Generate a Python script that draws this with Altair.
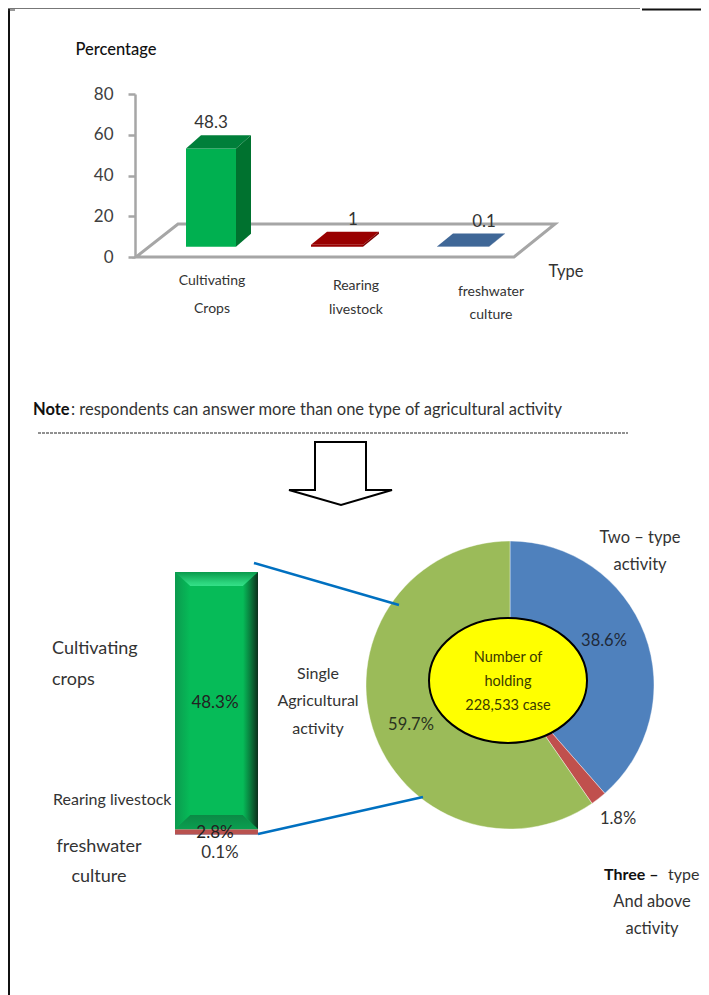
import altair as alt
import pandas as pd

# ---- values
bar_types = ["Cultivating Crops", "Rearing livestock", "freshwater culture"]
bar_values = [48.3, 1.0, 0.1]
bar_labels = ["48.3", "1", "0.1"]
y_ticks = [0, 20, 40, 60, 80]
stack_values = [0.1, 1.0, 48.3]
pie_names = ["Two-type activity", "Three-type and above", "Single activity"]
pie_values = [38.6, 1.8, 59.7]

# ---- layout, styles
FONT = "Lato"
INK = "#333333"
W, H = 693, 987
bar_left = [186, 311, 437]
bar_width = [50, 52, 52]
bar_shift = [15, 16, 16]
front_colors = ["#00b050", "#990000", "#3f6797"]
top_colors = ["#007f3a", "#990000", "#3f6797"]
side_colors = ["#00722f", "#7a0000", "#335580"]
BASE, DEPTH = 5.0, 6.4

X = alt.Scale(domain=[8, 8 + W], range=[0, W])
PX_Y = alt.Scale(domain=[8, 8 + H], range=[0, H])
TOP_Y = alt.Scale(domain=[0, 80], range=[249, 86])
STACK_Y = alt.Scale(domain=[0, sum(stack_values)], range=[827, 564])


def poly(points, fill, yscale=PX_Y, stroke=None, sw=0, closed=True):
    df = pd.DataFrame({"x": [p[0] for p in points], "y": [p[1] for p in points], "i": range(len(points))})
    kw = {"interpolate": "linear-closed" if closed else "linear", "strokeWidth": sw,
          "stroke": stroke if stroke else "transparent"}
    if fill is not None:
        kw["fill"] = fill
    return alt.Chart(df).mark_line(**kw).encode(
        x=alt.X("x:Q", scale=X, axis=None),
        y=alt.Y("y:Q", scale=yscale, axis=None),
        order="i:Q",
    )


def seg(x1, y1, x2, y2, color, sw, dash=None):
    kw = {"color": color, "strokeWidth": sw}
    if dash:
        kw["strokeDash"] = dash
    df = pd.DataFrame({"x": [x1, x2], "y": [y1, y2], "i": [0, 1]})
    return alt.Chart(df).mark_line(**kw).encode(
        x=alt.X("x:Q", scale=X, axis=None),
        y=alt.Y("y:Q", scale=PX_Y, axis=None),
        order="i:Q",
    )


def txt(s, x, y, size, color=INK, align="center", weight=400):
    df = pd.DataFrame({"x": [x], "y": [y], "t": [s]})
    return alt.Chart(df).mark_text(font=FONT, fontSize=size, color=color, align=align,
                                   baseline="middle", fontWeight=weight).encode(
        x=alt.X("x:Q", scale=X, axis=None),
        y=alt.Y("y:Q", scale=PX_Y, axis=None),
        text="t:N",
    )


layers = []

# page border
layers += [seg(8, 8.5, 640, 8.5, "#777777", 1), seg(642, 9.5, 709, 9.5, "#111111", 2),
           seg(9, 9, 9, 995, "#111111", 2), seg(8, 10, 15, 10, "#333333", 1)]

# 3D floor
floor = [(136, 0), (514, 0), (555, 16.2), (178, 16.2)]
layers.append(poly(floor, "#ffffff", TOP_Y, "#a6a6a6", 3))

# front faces, carrying the y axis
front = pd.DataFrame({
    "x": bar_left,
    "x2": [l + w for l, w in zip(bar_left, bar_width)],
    "y0": [BASE] * 3,
    "y1": [BASE + v for v in bar_values],
    "c": front_colors,
})
layers.append(
    alt.Chart(front).mark_rect().encode(
        x=alt.X("x:Q", scale=X, axis=None),
        x2="x2:Q",
        y=alt.Y("y1:Q", scale=TOP_Y, axis=alt.Axis(
            values=y_ticks, offset=-127, title=None, grid=False, domainColor="#a6a6a6", domainWidth=2.5,
            tickColor="#a6a6a6", tickWidth=2.5, tickSize=7, labelFont=FONT, labelFontSize=17,
            labelColor="#404040", labelPadding=15)),
        y2="y0:Q",
        fill=alt.Fill("c:N", scale=None),
    )
)

# top and side faces
for l, w, sh, v, tc, sc in zip(bar_left, bar_width, bar_shift, bar_values, top_colors, side_colors):
    t = BASE + v
    layers.append(poly([(l, t), (l + sh, t + DEPTH), (l + w + sh, t + DEPTH), (l + w, t)], tc, TOP_Y))
    layers.append(poly([(l + w, t), (l + w + sh, t + DEPTH), (l + w + sh, BASE + DEPTH), (l + w, BASE)], sc, TOP_Y))

# bar-chart text
for s, x, y in zip(bar_labels, [211, 353, 484], [123, 220, 222]):
    layers.append(txt(s, x, y, 17))
layers += [
    txt("Percentage", 116, 50, 16.5, "#111111", weight=500),
    txt("Type", 566, 272, 16.5),
    txt("Cultivating", 212, 281, 14), txt("Crops", 212, 309, 14),
    txt("Rearing", 356, 286, 14), txt("livestock", 356, 310, 14),
    txt("freshwater", 491, 292, 14), txt("culture", 491, 315, 14),
    txt("Note", 33, 410, 16.5, "#111111", "left", 700),
    txt(": respondents can answer more than one type of agricultural activity", 71, 410, 16.5, align="left"),
]

# dashed rule and arrow
layers.append(seg(38, 433, 628, 433, "#222222", 1, [3, 1]))
arrow = [(315, 442), (366, 442), (366, 490), (392, 490), (341, 505), (289, 490), (315, 490)]
layers.append(poly(arrow, "#ffffff", PX_Y, "#000000", 2))

# stacked column
cum = [sum(stack_values[:i]) for i in range(4)]
stack = pd.DataFrame({
    "x": [175] * 3, "x2": [258] * 3, "y0": cum[:3], "y1": cum[1:],
    "c": ["#4f81bd", "#b9524f", "#06bb58"],
})
layers.append(
    alt.Chart(stack).mark_rect().encode(
        x=alt.X("x:Q", scale=X, axis=None), x2="x2:Q",
        y=alt.Y("y1:Q", scale=STACK_Y, axis=None), y2="y0:Q",
        fill=alt.Fill("c:N", scale=None),
    )
)


def grad(stops, horizontal=False):
    return alt.LinearGradient(
        gradient="linear",
        stops=[alt.GradientStop(offset=o, color=c) for o, c in stops],
        x1=0, y1=0, x2=1 if horizontal else 0, y2=0 if horizontal else 1,
    )


layers += [
    poly([(175, 572), (258, 572), (243, 586), (190, 586)],
         grad([(0, "#0a9a4c"), (0.75, "#2bd47c"), (1, "#34e088")])),
    poly([(175, 829), (258, 829), (243, 815), (190, 815)],
         grad([(0, "#0b8a45"), (1, "#0b9e50")])),
    poly([(175, 572), (190, 586), (190, 815), (175, 829)],
         grad([(0, "#0b9a4e"), (1, "#06bb58")], True)),
    poly([(258, 572), (243, 586), (243, 815), (258, 829)],
         grad([(0, "#06bb58"), (0.5, "#0a7a3c"), (1, "#0c2f1c")], True)),
]

# pie
pie = pd.DataFrame({"n": pie_names, "v": pie_values, "i": range(3)})
layers.append(
    alt.Chart(pie).mark_arc(radius=144, stroke="#ffffff", strokeWidth=0.4).encode(
        x=alt.value(502), y=alt.value(677),
        theta=alt.Theta("v:Q", stack=True),
        order=alt.Order("i:Q"),
        color=alt.Color("n:N", legend=None, sort=pie_names,
                        scale=alt.Scale(domain=pie_names, range=["#4f81bd", "#c0504d", "#9bbb59"])),
    )
)

# connector lines
layers += [seg(254, 563, 399, 605, "#0070c0", 2.5), seg(258, 834, 423, 797, "#0070c0", 2.5)]

# ellipse in the pie centre
ellipse = pd.DataFrame({"x": [508], "y": [680.5]})
layers.append(
    alt.Chart(ellipse).mark_point(
        shape="M -1 0 A 1 0.79 0 1 1 1 0 A 1 0.79 0 1 1 -1 0 Z",
        size=158 ** 2, filled=True, fill="#ffff00", stroke="#000000", strokeWidth=2, opacity=1,
    ).encode(
        x=alt.X("x:Q", scale=X, axis=None),
        y=alt.Y("y:Q", scale=PX_Y, axis=None),
    )
)

# lower text
OLIVE = "#3a3a00"
layers += [
    txt("Cultivating", 52, 649, 18, align="left"), txt("crops", 52, 680, 18, align="left"),
    txt("Rearing livestock", 53, 800, 16, align="left"),
    txt("freshwater", 99, 847, 18), txt("culture", 99, 877, 18),
    txt("48.3%", 215, 703, 17, "#222222"), txt("2.8%", 215, 833, 17, "#222222"), txt("0.1%", 220, 853, 17),
    txt("Single", 318, 674, 16), txt("Agricultural", 318, 701, 16), txt("activity", 318, 729, 16),
    txt("Two – type", 640, 538, 16.5), txt("activity", 640, 565, 16.5),
    txt("38.6%", 604, 641, 16.5, "#1f2a3a"), txt("59.7%", 411, 725, 16.5, "#2a3320"), txt("1.8%", 618, 819, 16.5),
    txt("Number of", 508, 658, 14.5, OLIVE), txt("holding", 508, 682, 14.5, OLIVE), txt("228,533 case", 508, 706, 14.5, OLIVE),
    txt("Three –", 604, 875, 16, "#111111", "left", 700), txt("type", 668, 875, 16, align="left"),
    txt("And above", 652, 902, 16.5), txt("activity", 652, 929, 16.5),
]

chart = (
    alt.layer(*layers)
    .resolve_scale(y="independent", x="shared")
    .properties(width=W, height=H, padding=0, background="#ffffff",
                autosize=alt.AutoSizeParams(type="none"))
    .configure_view(stroke=None)
)
chart.save("out.html", embed_options={"renderer": "svg", "actions": False})
